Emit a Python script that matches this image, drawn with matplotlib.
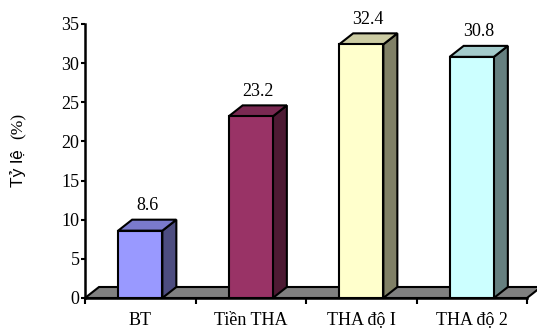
import matplotlib.pyplot as plt
from matplotlib.patches import Polygon

# Category data
categories = ['BT', 'Tiền THA', 'THA độ I', 'THA độ 2']
values = [8.6, 23.2, 32.4, 30.8]

# face colours: front, top, side
front_colors = ['#9999FF', '#993366', '#FFFFCC', '#CCFFFF']
top_colors = ['#7A7ACC', '#7A2952', '#CCCCA3', '#A3CCCC']
side_colors = ['#4D4D80', '#4D1A33', '#808066', '#668080']

W, H = 537, 329
fig = plt.figure(figsize=(W / 100, H / 100), dpi=100)
ax_l, ax_r, ax_t, ax_b = 85, 527, 24, 298
ax = fig.add_axes([ax_l / W, (H - ax_b) / H, (ax_r - ax_l) / W, (ax_b - ax_t) / H])

xmin, xmax = -0.5, len(categories) - 0.5
ymin, ymax = 0, 35
ax.set_xlim(xmin, xmax)
ax.set_ylim(ymin, ymax)

# depth of the pseudo-3D extrusion, pixels -> data units
depth_px = (14, 11)
ddx = depth_px[0] / (ax_r - ax_l) * (xmax - xmin)
ddy = depth_px[1] / (ax_b - ax_t) * (ymax - ymin)

lw = 1.5
serif = 'Liberation Serif'
fs = 13

# grey floor
floor = Polygon([(xmin, 0), (xmax, 0), (xmax + ddx, ddy), (xmin + ddx, ddy)],
                closed=True, facecolor='#808080', edgecolor='black', lw=lw,
                clip_on=False, zorder=1)
ax.add_patch(floor)

bw = 0.4
for i, v in enumerate(values):
    x0, x1 = i - bw / 2, i + bw / 2
    side = Polygon([(x1, 0), (x1 + ddx, ddy), (x1 + ddx, v + ddy), (x1, v)],
                   closed=True, facecolor=side_colors[i], edgecolor='black',
                   lw=lw, clip_on=False, zorder=3)
    top = Polygon([(x0, v), (x1, v), (x1 + ddx, v + ddy), (x0 + ddx, v + ddy)],
                  closed=True, facecolor=top_colors[i], edgecolor='black',
                  lw=lw, clip_on=False, zorder=3)
    ax.add_patch(side)
    ax.add_patch(top)

bars = ax.bar(range(len(values)), values, width=bw, color=front_colors,
              edgecolor='black', linewidth=lw, zorder=4, clip_on=False)

for i, v in enumerate(values):
    ax.annotate(f'{v}', (i + ddx / 2, v + ddy), xytext=(0, 4),
                textcoords='offset points', ha='center', va='bottom',
                fontsize=fs, family=serif)

# axes styling
for s in ['top', 'right']:
    ax.spines[s].set_visible(False)
for s in ['left', 'bottom']:
    ax.spines[s].set_linewidth(1.8)
    ax.spines[s].set_zorder(5)

ax.set_yticks(range(0, 36, 5))
ax.tick_params(axis='y', length=3, width=1.5, pad=1, labelsize=fs)
ax.set_xticks(range(len(categories)))
ax.set_xticklabels(categories)
ax.tick_params(axis='x', which='major', length=0, pad=10, labelsize=fs)
ax.set_xticks([b + 0.5 for b in range(-1, len(categories))], minor=True)
ax.tick_params(axis='x', which='minor', length=4, width=1.5, direction='out')
for lab in ax.get_xticklabels() + ax.get_yticklabels():
    lab.set_family(serif)

# y label: "Tỷ lệ" in sans, "(%)" smaller
fig.text(18 / W, 1 - 168 / H, 'Tỷ lệ', rotation=90, ha='center', va='center',
         fontsize=12.5, family='Liberation Sans')
fig.text(19 / W, 1 - 126 / H, '(%)', rotation=90, ha='center', va='center',
         fontsize=12.5, family=serif)

fig.savefig('out.png', dpi=100)
